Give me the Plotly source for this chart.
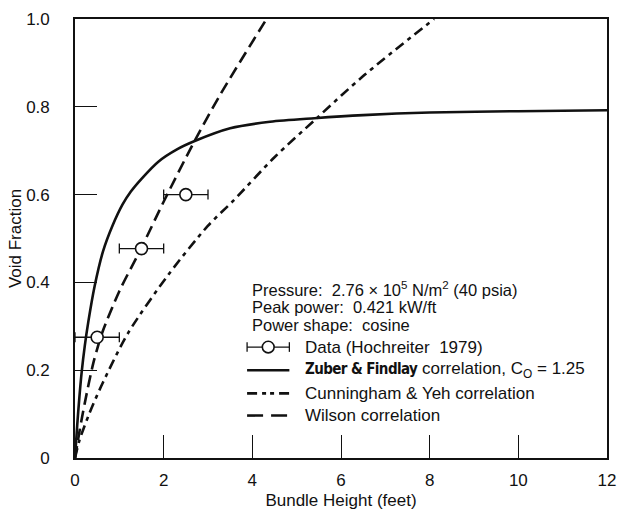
import plotly.graph_objects as go

# ---- data -------------------------------------------------------------
# Measured void fraction (Hochreiter 1979) with bundle-height uncertainty
data_height = [0.5, 1.5, 2.5]
data_void = [0.275, 0.477, 0.600]
data_height_err = [0.5, 0.5, 0.5]

# Zuber & Findlay correlation, C0 = 1.25
zf_height = [0.0, 0.05, 0.10, 0.15, 0.22, 0.30, 0.44, 0.63, 0.85, 1.07, 1.26,
             1.50, 1.88, 2.30, 2.70, 3.50, 4.40, 5.40, 6.50, 8.00, 10.0, 12.0]
zf_void = [0.0, 0.075, 0.14, 0.195, 0.255, 0.31, 0.39, 0.47, 0.53, 0.577, 0.607,
           0.636, 0.675, 0.703, 0.722, 0.751, 0.766, 0.774, 0.781, 0.787, 0.790, 0.792]

# Cunningham & Yeh correlation
cy_height = [0.0, 0.10, 0.33, 0.63, 1.20, 2.11, 2.99, 3.58, 4.50, 5.43, 6.50, 8.10]
cy_void = [0.0, 0.04, 0.103, 0.172, 0.285, 0.418, 0.528, 0.587, 0.685, 0.772, 0.870, 1.0]

# Wilson correlation
wi_height = [0.0, 0.10, 0.22, 0.41, 0.54, 0.63, 1.00, 1.48, 2.03, 2.66, 3.29, 4.32]
wi_void = [0.0, 0.06, 0.125, 0.215, 0.262, 0.29, 0.38, 0.475, 0.59, 0.715, 0.83, 1.0]

x_ticks = [0, 2, 4, 6, 8, 10, 12]
y_ticks = [0, 0.2, 0.4, 0.6, 0.8, 1.0]
y_tick_text = ["0", "0.2", "0.4", "0.6", "0.8", "1.0"]

# ---- figure geometry ---------------------------------------------------
W, H = 626, 517
ML, MR, MT, MB = 75, 10, 12, 50
FONT = "Liberation Sans, Arial, Helvetica, sans-serif"
INK = "#111111"
FS = 17


def px(xp, yp):
    """Figure pixel position -> paper coordinates."""
    return (xp - ML) / (W - ML - MR), (H - MB - yp) / (H - MT - MB)


fig = go.Figure()

fig.add_trace(go.Scatter(
    x=zf_height, y=zf_void, mode="lines",
    line=dict(color=INK, width=2.6, shape="spline", smoothing=0.8),
    hoverinfo="skip", showlegend=False))

fig.add_trace(go.Scatter(
    x=cy_height, y=cy_void, mode="lines",
    line=dict(color=INK, width=2.6, dash="10px,5px,4px,5px",
              shape="spline", smoothing=0.8),
    hoverinfo="skip", showlegend=False))

fig.add_trace(go.Scatter(
    x=wi_height, y=wi_void, mode="lines",
    line=dict(color=INK, width=2.6, dash="12px,6px",
              shape="spline", smoothing=0.8),
    hoverinfo="skip", showlegend=False))

fig.add_trace(go.Scatter(
    x=data_height, y=data_void, mode="markers",
    marker=dict(symbol="circle", size=12, color="white",
                line=dict(color=INK, width=1.6)),
    error_x=dict(type="data", array=data_height_err, color=INK,
                 thickness=1.3, width=5),
    cliponaxis=False, showlegend=False))

# ---- key -----------------------------------------------------------------
shapes = []
annotations = []
text_font = dict(family=FONT, size=FS, color=INK)

# test conditions: one three-line block; the block font size sets the
# (tight) line pitch, the spans carry the visible text size
big = '<span style="font-size:16.5px">'
info_text = (big + "Pressure:  2.76 × 10<sup>5</sup> N/m<sup>2</sup> (40 psia)</span><br>"
             + big + "Peak power:  0.421 kW/ft</span><br>"
             + big + "Power shape:  cosine</span>")
ax, ay = px(253, 310)
annotations.append(dict(x=ax, y=ay, xref="paper", yref="paper",
                        text=info_text, showarrow=False, xanchor="left",
                        yanchor="middle", align="left",
                        font=dict(family=FONT, size=13.5, color=INK)))

key_x0, key_x1, key_text = 250, 293, 307
narrow_bold = ('<span style="font-family:Liberation Sans Narrow, DejaVu Sans '
               'Condensed, Liberation Sans, sans-serif;font-weight:bold;'
               'font-stretch:condensed;letter-spacing:-0.6px;font-size:15px">')
key_rows = [
    (352, "data", "Data (Hochreiter  1979)"),
    (376, "solid",
     narrow_bold + "Zuber &amp; Findlay</span> correlation, C<sub>O</sub> = 1.25"),
    (400, "10px,5px,4px,4px,4px,5px", "Cunningham &amp; Yeh correlation"),
    (423, "16px,8px", "Wilson correlation"),
]
for yp, style, txt in key_rows:
    x0, y0 = px(key_x0, yp)
    x1, _ = px(key_x1, yp)
    if style == "data":
        shapes.append(dict(type="line", xref="paper", yref="paper",
                           x0=x0, x1=x1, y0=y0, y1=y0,
                           line=dict(color=INK, width=1.3)))
        for xe in (key_x0, key_x1):
            xc, yt = px(xe, yp - 5)
            _, yb = px(xe, yp + 5)
            shapes.append(dict(type="line", xref="paper", yref="paper",
                               x0=xc, x1=xc, y0=yb, y1=yt,
                               line=dict(color=INK, width=1.3)))
        cx0, cy0 = px((key_x0 + key_x1) / 2 - 6, yp + 6)
        cx1, cy1 = px((key_x0 + key_x1) / 2 + 6, yp - 6)
        shapes.append(dict(type="circle", xref="paper", yref="paper",
                           x0=cx0, x1=cx1, y0=cy0, y1=cy1,
                           fillcolor="white",
                           line=dict(color=INK, width=1.6)))
    else:
        shapes.append(dict(type="line", xref="paper", yref="paper",
                           x0=x0, x1=x1, y0=y0, y1=y0,
                           line=dict(color=INK, width=2.6, dash=style)))
    tx, ty = px(key_text, yp)
    annotations.append(dict(x=tx, y=ty, xref="paper", yref="paper",
                            text=txt, showarrow=False, xanchor="left",
                            yanchor="middle", font=text_font))

fig.update_layout(
    width=W, height=H,
    margin=dict(l=ML, r=MR, t=MT, b=MB, pad=0),
    paper_bgcolor="white", plot_bgcolor="white",
    font=dict(family=FONT, size=FS, color=INK),
    shapes=shapes, annotations=annotations,
    showlegend=False,
)

fig.update_xaxes(
    range=[0, 12], tickvals=x_ticks, ticks="inside", ticklen=23,
    tickwidth=1.3, tickcolor=INK, showgrid=False, zeroline=False,
    showline=True, linecolor=INK, linewidth=1.6, mirror=True,
    ticklabelstandoff=6, tickfont=dict(size=FS),
    title=dict(text="Bundle Height (feet)", font=dict(size=FS), standoff=5),
)
fig.update_yaxes(
    range=[0, 1.0], tickvals=y_ticks, ticktext=y_tick_text,
    ticks="inside", ticklen=22, tickwidth=1.3, tickcolor=INK,
    showgrid=False, zeroline=False, showline=True, linecolor=INK,
    linewidth=1.6, mirror=True, ticklabelstandoff=20,
    tickfont=dict(size=FS),
    title=dict(text="Void Fraction", font=dict(size=FS), standoff=0),
)

fig.write_html("out.html")
